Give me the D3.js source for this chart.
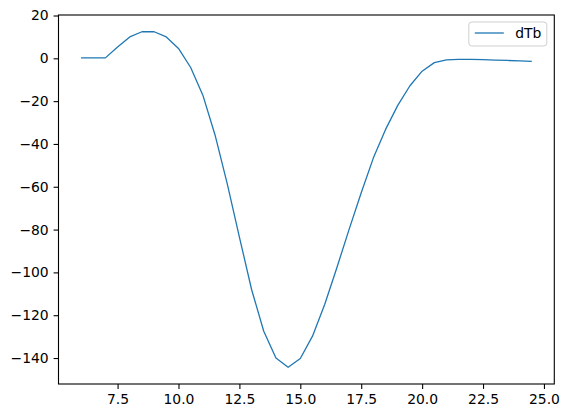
<!DOCTYPE html>
<html>
<head>
<meta charset="utf-8">
<script src="https://cdn.jsdelivr.net/npm/d3@7"></script>
<style>
  body { margin: 0; background: #fff; }
  svg { display: block; font-family: "DejaVu Sans", sans-serif; }
  .tick text { font-family: "DejaVu Sans", sans-serif; font-size: 13.9px; fill: #000; }
  .tick line { stroke: #000; stroke-width: 1.1; }
  .domain { display: none; }
</style>
</head>
<body>
<div id="chart"></div>
<script>
// data
const xValues = [6, 6.5, 7, 7.5, 8, 8.5, 9, 9.5, 10, 10.5, 11, 11.5, 12, 12.5,
                 13, 13.5, 14, 14.5, 15, 15.5, 16, 16.5, 17, 17.5, 18, 18.5,
                 19, 19.5, 20, 20.5, 21, 21.5, 22, 22.5, 23, 23.5, 24, 24.5];
const dTb = [0.2, 0.2, 0.2, 5.3, 10.0, 12.4, 12.4, 10.0, 4.6, -4.3, -17.2, -35.8,
             -58.5, -83.5, -108, -127.5, -140, -144.3, -140.2, -129.8, -115, -97.8,
             -80, -62.8, -46.5, -33.2, -22.0, -12.8, -6.0, -2.0, -0.7, -0.5, -0.5,
             -0.6, -0.8, -1.0, -1.2, -1.4];
const xTicks = [7.5, 10, 12.5, 15, 17.5, 20, 22.5, 25];
const yTicks = [-140, -120, -100, -80, -60, -40, -20, 0, 20];
const seriesName = "dTb";

const width = 568, height = 418;
const margin = { top: 15, right: 13.7, bottom: 34, left: 58.5 };
const innerWidth = width - margin.left - margin.right;
const innerHeight = height - margin.top - margin.bottom;
const lineColor = "#1f77b4";
const fontFamily = "DejaVu Sans, sans-serif";

const points = xValues.map((x, i) => ({ x: x, y: dTb[i] }));

// matplotlib-style 5% padding around the data
const pad = ([a, b]) => [a - (b - a) * 0.05, b + (b - a) * 0.05];

const xScale = d3.scaleLinear()
    .domain(pad(d3.extent(xValues)))
    .range([0, innerWidth]);

const yScale = d3.scaleLinear()
    .domain(pad(d3.extent(dTb)))
    .range([innerHeight, 0]);

const svg = d3.select("#chart")
    .append("svg")
    .attr("width", width)
    .attr("height", height);

const innerChart = svg.append("g")
    .attr("transform", `translate(${margin.left}, ${margin.top})`);

const minus = s => s.replace("-", "\u2212");

// axes
innerChart.append("g")
    .attr("transform", `translate(0, ${innerHeight})`)
    .call(d3.axisBottom(xScale)
        .tickValues(xTicks)
        .tickFormat(d => minus(d3.format(".1f")(d)))
        .tickSize(4.9)
        .tickPadding(4.9))
    .attr("font-family", fontFamily);

innerChart.append("g")
    .call(d3.axisLeft(yScale)
        .tickValues(yTicks)
        .tickFormat(d => minus(d3.format("d")(d)))
        .tickSize(4.9)
        .tickPadding(4.9))
    .attr("font-family", fontFamily);

// the line
innerChart.append("path")
    .datum(points)
    .attr("fill", "none")
    .attr("stroke", lineColor)
    .attr("stroke-width", 1.3)
    .attr("stroke-linejoin", "round")
    .attr("d", d3.line().x(d => xScale(d.x)).y(d => yScale(d.y)));

// axes frame
innerChart.append("rect")
    .attr("width", innerWidth)
    .attr("height", innerHeight)
    .attr("fill", "none")
    .attr("stroke", "#000")
    .attr("stroke-width", 1.1);

// legend
const legend = innerChart.append("g")
    .attr("transform", `translate(${innerWidth - 85.5}, 7)`);

legend.append("rect")
    .attr("width", 78)
    .attr("height", 24)
    .attr("rx", 3)
    .attr("fill", "#fff")
    .attr("fill-opacity", 0.8)
    .attr("stroke", "#d0d0d0")
    .attr("stroke-width", 1);

legend.append("line")
    .attr("x1", 6).attr("x2", 35)
    .attr("y1", 11).attr("y2", 11)
    .attr("stroke", lineColor)
    .attr("stroke-width", 1.3);

legend.append("text")
    .attr("x", 46.5)
    .attr("y", 16)
    .attr("font-family", fontFamily)
    .attr("font-size", "13.9px")
    .text(seriesName);
</script>
</body>
</html>
